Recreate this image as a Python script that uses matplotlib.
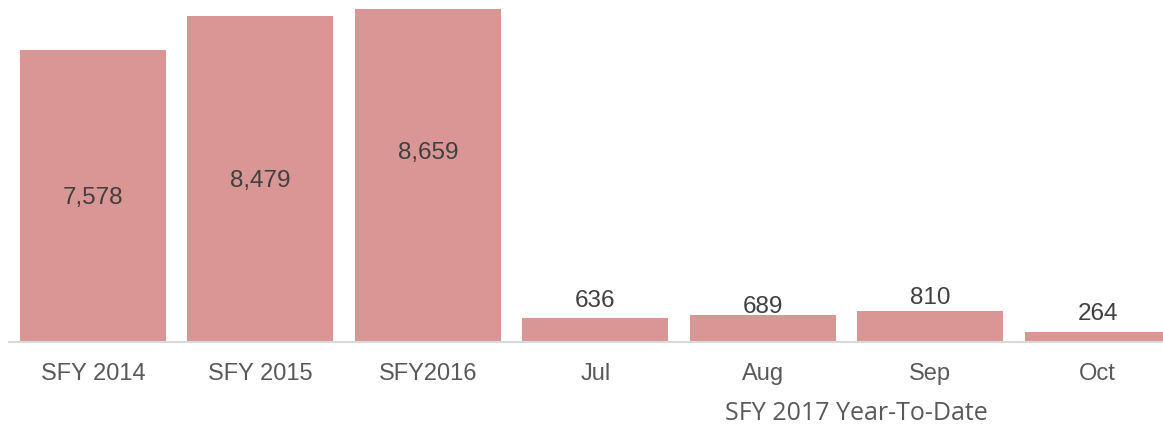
import matplotlib.pyplot as plt

# data
categories = ["SFY 2014", "SFY 2015", "SFY2016", "Jul", "Aug", "Sep", "Oct"]
values = [7578, 8479, 8659, 636, 689, 810, 264]
group_label = "SFY 2017 Year-To-Date"

bar_color = "#D99694"

fig = plt.figure(figsize=(11.63, 4.25), dpi=100)
# axes runs a bit past the right edge, like the original which is cropped there
ax = fig.add_axes([9.3 / 1163, 83 / 425, 1172 / 1163, 342 / 425])

x = list(range(len(categories)))
bars = ax.bar(x, values, width=0.872, color=bar_color)

ax.set_xlim(-0.5, len(categories) - 0.5)
ax.set_ylim(0, 8890)

# value labels: big bars inside, small bars above
inside_frac = [0.494, 0.494, 0.568]
above_px = [17, 8, 13, 18]
for i, (b, v) in enumerate(zip(bars, values)):
    txt = f"{v:,}"
    if i < 3:
        ax.text(b.get_x() + b.get_width() / 2, v * inside_frac[i], txt,
                ha="center", va="center", fontsize=17.5, color="#404040",
                family="Liberation Sans")
    else:
        ax.annotate(txt, (b.get_x() + b.get_width() / 2, v),
                    xytext=(0, above_px[i - 3] * 0.72), textcoords="offset points",
                    ha="center", va="center", fontsize=17.5, color="#404040",
                    family="Liberation Sans")

ax.set_xticks(x)
ax.set_xticklabels(categories, fontsize=17, color="#595959", family="Liberation Sans")
ax.tick_params(axis="x", length=0, pad=15)
ax.set_yticks([])

for s in ["top", "right", "left"]:
    ax.spines[s].set_visible(False)
ax.spines["bottom"].set_color("#D9D9D9")
ax.spines["bottom"].set_linewidth(1.5)

ax.text(4.56, -71 / 342, group_label, transform=ax.get_xaxis_transform(),
        ha="center", va="center", fontsize=18, color="#595959", family="Open Sans")

fig.savefig("out.png", dpi=100)
